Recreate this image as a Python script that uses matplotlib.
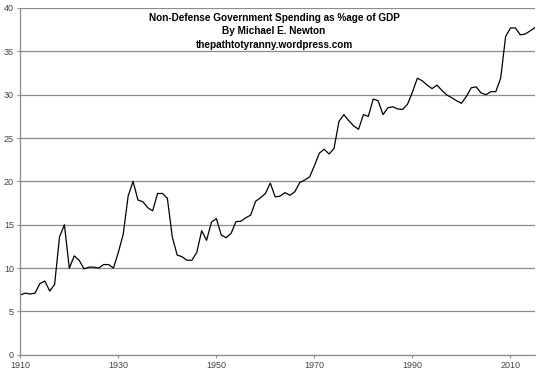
import matplotlib
matplotlib.use("Agg")
import matplotlib.pyplot as plt

years = list(range(1910, 2016))
values = [
    6.9, 7.1, 7.0, 7.1, 8.2, 8.5, 7.35, 8.1, 13.6, 15.0,   # 1910-1919
    9.97, 11.4, 10.9, 9.9, 10.1, 10.1, 10.0, 10.4, 10.4, 10.0,  # 1920-1929
    11.8, 13.9, 18.3, 20.0, 17.85, 17.65, 16.96, 16.6, 18.6, 18.6,  # 1930-1939
    18.05, 13.6, 11.5, 11.3, 10.9, 10.9, 11.8, 14.3, 13.2, 15.3,  # 1940-1949
    15.7, 13.8, 13.5, 14.0, 15.35, 15.4, 15.8, 16.1, 17.7, 18.1,  # 1950-1959
    18.6, 19.8, 18.2, 18.3, 18.7, 18.4, 18.8, 19.85, 20.15, 20.5,  # 1960-1969
    21.8, 23.25, 23.7, 23.15, 23.8, 26.9, 27.7, 27.0, 26.4, 26.0,  # 1970-1979
    27.7, 27.5, 29.5, 29.3, 27.7, 28.5, 28.6, 28.35, 28.3, 28.9,  # 1980-1989
    30.3, 31.9, 31.6, 31.1, 30.7, 31.1, 30.5, 29.97, 29.65, 29.3,  # 1990-1999
    29.0, 29.8, 30.8, 30.9, 30.2, 30.0, 30.35, 30.35, 31.9, 36.7,  # 2000-2009
    37.7, 37.7, 36.9, 37.0, 37.35, 37.75,  # 2010-2015
]
x_ticks = [1910, 1930, 1950, 1970, 1990, 2010]
y_ticks = [0, 5, 10, 15, 20, 25, 30, 35, 40]
title_lines = [
    "Non-Defense Government Spending as %age of GDP",
    "By Michael E. Newton",
    "thepathtotyranny.wordpress.com",
]

plt.rcParams['font.family'] = ['Liberation Sans', 'DejaVu Sans']

fig = plt.figure(figsize=(5.4, 3.76), dpi=100)
ax = fig.add_axes([20.3 / 540, (376 - 354.7) / 376, (535 - 20.3) / 540, (354.7 - 8) / 376])

ax.plot(years, values, color='black', linewidth=0.9)

ax.set_xlim(1910, 2015)
ax.set_ylim(0, 40)
ax.set_xticks(x_ticks)
ax.set_yticks(y_ticks)
ax.yaxis.grid(True, color='#8c8c8c', linewidth=0.9)
ax.set_axisbelow(True)
for s in ['top', 'right']:
    ax.spines[s].set_visible(False)
for s in ['left', 'bottom']:
    ax.spines[s].set_color('#8c8c8c')
    ax.spines[s].set_linewidth(0.9)
ax.tick_params(axis='both', colors='#8c8c8c', labelcolor='#444444', labelsize=6.5,
               length=2.5, width=0.8, pad=2)

for i, t in enumerate(title_lines):
    fig.text(274 / 540, 1 - (18 + i * 13.5) / 376, t, ha='center', va='center',
             fontsize=7.2, fontweight='bold', color='black')

fig.savefig("out.png", dpi=100)
